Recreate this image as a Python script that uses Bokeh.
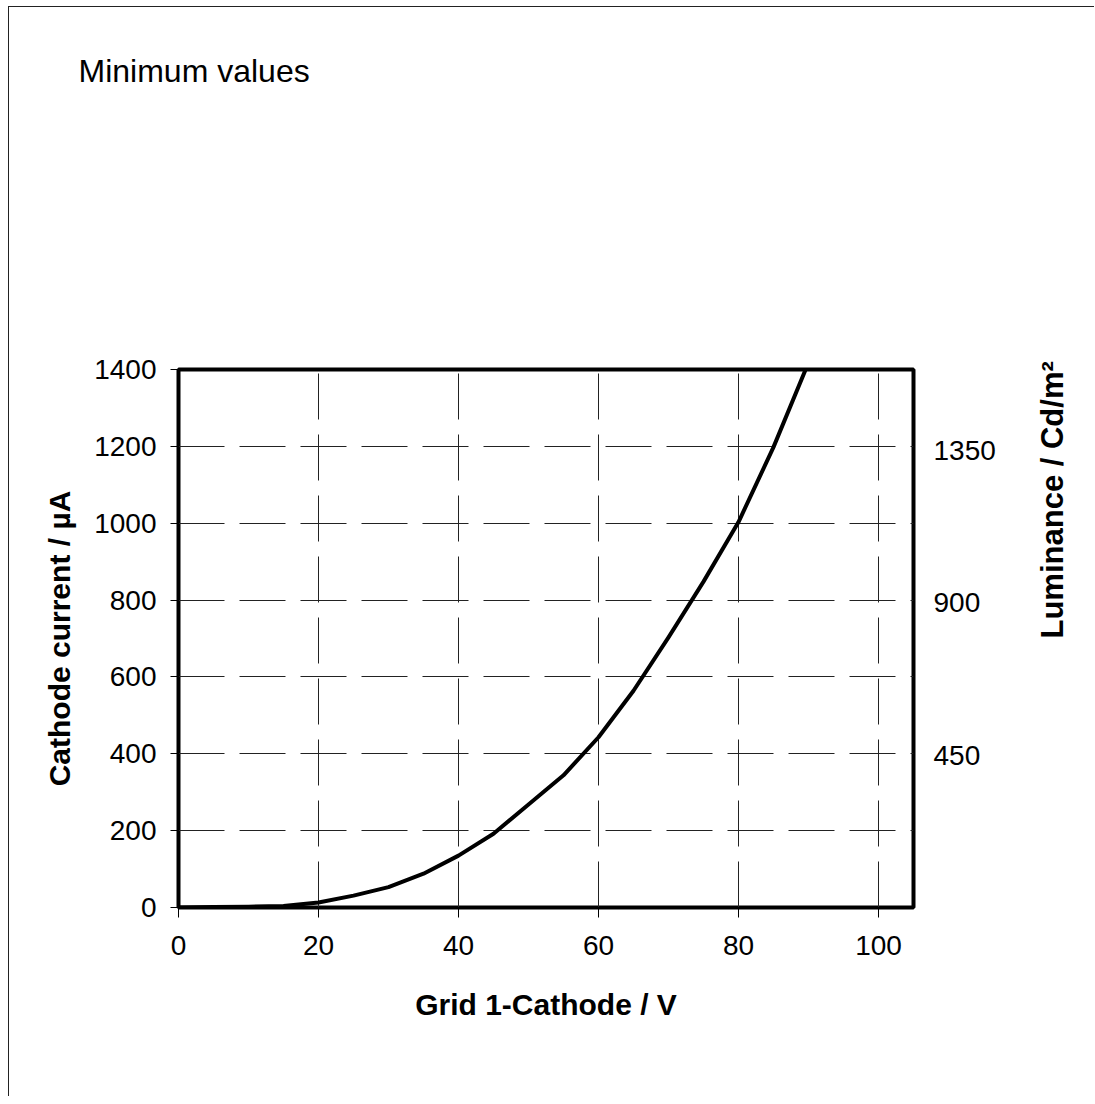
import math
from bokeh.plotting import figure
from bokeh.models import Range1d, LinearAxis, FixedTicker, Title
from bokeh.embed import file_html
from bokeh.resources import INLINE

# Data
grid_voltage = [0, 5, 10, 15, 20, 25, 30, 35, 40, 45, 50, 55, 60, 65, 70, 75, 80, 85, 90]
cathode_current = [0, 1, 2, 4, 13, 31, 53, 88, 135, 192, 268, 344, 443, 564, 703, 848, 1003, 1198, 1418]

x_ticks = [0, 20, 40, 60, 80, 100]
y_ticks = [0, 200, 400, 600, 800, 1000, 1200, 1400]
lum_ticks = [450, 900, 1350]

FONT = "Liberation Sans"

p = figure(width=1086, height=1090,
           x_range=Range1d(0, 105), y_range=Range1d(0, 1400),
           output_backend="svg", toolbar_location=None,
           min_border_left=169, min_border_right=182,
           min_border_top=362, min_border_bottom=190)
p.styles = {"margin-left": "8px", "margin-top": "6px",
            "border-left": "1px solid #222", "border-top": "1px solid #222"}

p.outline_line_color = "black"
p.outline_line_width = 4
p.background_fill_color = "white"
p.border_fill_color = "white"

# title placed high above the frame: a blank spacer title, then the real one
p.title.text = ""
spacer = Title(text=" ", text_font=FONT, text_font_size="10px", standoff=268)
p.add_layout(spacer, "above")
main_title = Title(text="Minimum values", align="left", offset=-100, standoff=0,
                   vertical_align="bottom", text_font=FONT, text_font_size="32px",
                   text_font_style="normal", text_color="black")
p.add_layout(main_title, "above")

p.extra_y_ranges = {"lum": Range1d(0, 1590)}

# Grid
p.xgrid.ticker = FixedTicker(ticks=x_ticks)
p.ygrid.ticker = FixedTicker(ticks=y_ticks)
for g in (p.xgrid, p.ygrid):
    g.grid_line_color = "#222222"
    g.grid_line_width = 1
    g.grid_line_dash = "46 15"

# Bottom axis
xa = p.xaxis[0]
xa.ticker = FixedTicker(ticks=x_ticks)
xa.axis_label = "Grid 1-Cathode / V"
# Left axis
ya = p.yaxis[0]
ya.ticker = FixedTicker(ticks=y_ticks)
ya.axis_label = "Cathode current / µA"

for ax in (xa, ya):
    ax.axis_line_color = None
    ax.major_tick_line_color = "black"
    ax.major_tick_line_width = 1
    ax.major_tick_in = 0
    ax.minor_tick_line_color = None
    ax.major_label_text_font = FONT
    ax.major_label_text_font_size = "28px"
    ax.major_label_text_color = "black"
    ax.axis_label_text_font = FONT
    ax.axis_label_text_font_size = "30px"
    ax.axis_label_text_font_style = "bold"
    ax.axis_label_text_color = "black"

xa.major_tick_out = 10
xa.major_label_standoff = 18
xa.axis_label_standoff = 30
ya.major_tick_out = 8
ya.major_label_standoff = 14
ya.axis_label_standoff = 15

# Right axis (luminance)
ra = LinearAxis(y_range_name="lum", ticker=FixedTicker(ticks=lum_ticks),
                axis_label="Luminance / Cd/m²")
ra.axis_line_color = None
ra.major_tick_line_color = None
ra.minor_tick_line_color = None
ra.major_tick_out = 0
ra.major_tick_in = 0
ra.major_label_standoff = 20
ra.major_label_text_font = FONT
ra.major_label_text_font_size = "28px"
ra.major_label_text_color = "black"
ra.axis_label_text_font = FONT
ra.axis_label_text_font_size = "31px"
ra.axis_label_text_font_style = "bold"
ra.axis_label_text_color = "black"
ra.axis_label_orientation = math.pi / 2
ra.axis_label_standoff = 54
p.add_layout(ra, "right")

# Curve
p.line(grid_voltage, cathode_current, line_color="black", line_width=4, line_join="round")

open("out.html", "w").write(file_html(p, INLINE))
